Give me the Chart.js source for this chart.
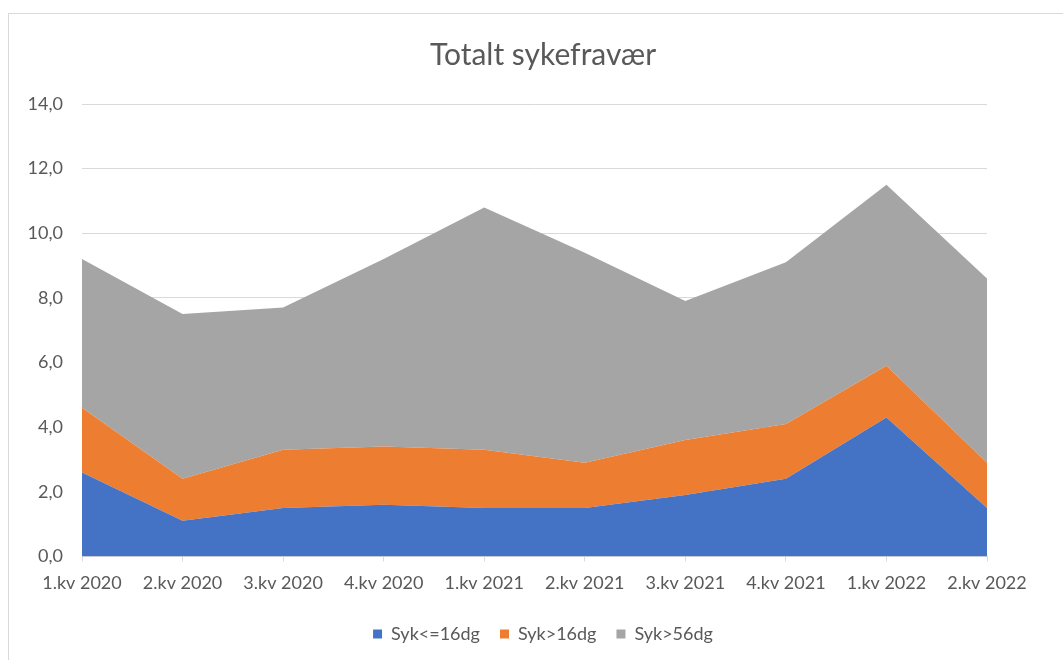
<!DOCTYPE html>
<html>
<head>
<meta charset="utf-8">
<script src="https://cdn.jsdelivr.net/npm/chart.js@4/dist/chart.umd.min.js"></script>
<style>
  html, body { margin: 0; padding: 0; background: #fff; }
  #wrap { position: relative; width: 1063px; height: 660px; overflow: hidden; }
  #frame { position: absolute; left: 8px; top: 13px; right: 0; bottom: 0;
           border-top: 1px solid #d9d9d9; border-left: 1px solid #d9d9d9; }
  canvas { position: absolute; left: 0; top: 0; }
</style>
</head>
<body>
<div id="wrap">
  <div id="frame"></div>
  <canvas id="chart" width="1100" height="660"></canvas>
</div>
<script>
  // Kvartaler
  const labels = ['1.kv 2020', '2.kv 2020', '3.kv 2020', '4.kv 2020', '1.kv 2021',
    '2.kv 2021', '3.kv 2021', '4.kv 2021', '1.kv 2022', '2.kv 2022'];

  // Sykefravær i prosent, stablet
  const sykKort = [2.6, 1.1, 1.5, 1.6, 1.5, 1.5, 1.9, 2.4, 4.3, 1.5];
  const sykOver16 = [2.0, 1.3, 1.8, 1.8, 1.8, 1.4, 1.7, 1.7, 1.6, 1.4];
  const sykOver56 = [4.6, 5.1, 4.4, 5.8, 7.5, 6.5, 4.3, 5.0, 5.6, 5.7];

  const textColor = '#595959';
  const font = 'Lato, "Open Sans", sans-serif';

  const data = {
    labels: labels,
    datasets: [
      {
        label: 'Syk<=16dg',
        data: sykKort,
        backgroundColor: '#4472C4',
        fill: 'origin'
      },
      {
        label: 'Syk>16dg',
        data: sykOver16,
        backgroundColor: '#ED7D31',
        fill: '-1'
      },
      {
        label: 'Syk>56dg',
        data: sykOver56,
        backgroundColor: '#A5A5A5',
        fill: '-1'
      }
    ]
  };

  data.datasets.forEach(function (ds) {
    ds.borderWidth = 0;
    ds.borderColor = ds.backgroundColor;
    ds.pointRadius = 0;
    ds.tension = 0;
  });

  const config = {
    type: 'line',
    data: data,
    options: {
      responsive: false,
      animation: false,
      layout: { padding: { left: 0, right: 14, top: 17, bottom: 7 } },
      plugins: {
        title: {
          display: true,
          text: 'Totalt sykefravær',
          color: textColor,
          font: { family: font, size: 30, weight: 'normal' },
          padding: { top: 20, bottom: 31 }
        },
        legend: {
          position: 'bottom',
          labels: {
            color: textColor,
            font: { family: font, size: 18 },
            boxWidth: 9,
            boxHeight: 9,
            padding: 20
          }
        },
        tooltip: { enabled: false }
      },
      scales: {
        x: {
          offset: false,
          grid: { drawOnChartArea: false, drawTicks: true, tickLength: 5, color: '#d9d9d9' },
          border: { display: true, color: '#d9d9d9' },
          ticks: {
            color: textColor,
            font: { family: font, size: 18 },
            maxRotation: 0,
            autoSkip: false,
            padding: 11
          }
        },
        y: {
          stacked: true,
          min: 0,
          max: 14,
          afterFit: function (scale) { scale.width = 82; },
          grid: { color: '#d9d9d9', drawTicks: false },
          border: { display: false },
          ticks: {
            stepSize: 2,
            color: textColor,
            font: { family: font, size: 18 },
            padding: 19,
            callback: function (v) { return v.toFixed(1).replace('.', ','); }
          }
        },
        // tom akse til høyre, bare for plass
        spacer: {
          type: 'linear',
          position: 'right',
          afterFit: function (scale) { scale.width = 99; },
          grid: { display: false },
          border: { display: false },
          ticks: { display: false }
        }
      }
    }
  };

  var areaChart = new Chart(document.getElementById('chart'), config);
</script>
</body>
</html>
